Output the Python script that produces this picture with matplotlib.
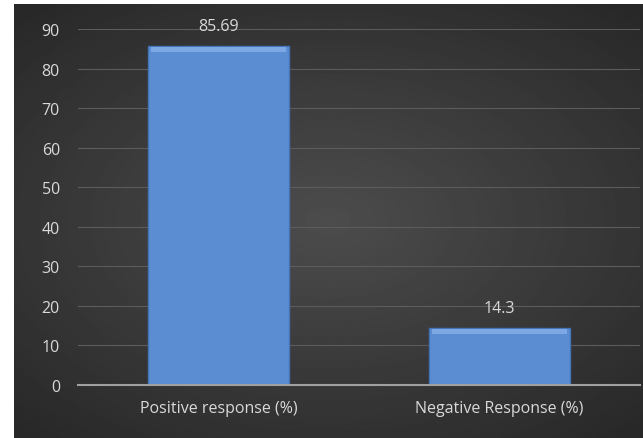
import matplotlib.pyplot as plt
import numpy as np

categories = ['Positive response (%)', 'Negative Response (%)']
values = [85.69, 14.3]
value_labels = ['85.69', '14.3']
yticks = [0, 10, 20, 30, 40, 50, 60, 70, 80, 90]

plt.rcParams['font.family'] = ['Open Sans', 'DejaVu Sans']

W, H = 643, 439
fig = plt.figure(figsize=(W / 100, H / 100), dpi=100)
fig.patch.set_facecolor('white')

# dark radial-gradient panel behind the chart
bg = fig.add_axes([14 / W, 0, (W - 14) / W, (H - 5) / H], zorder=0)
yy, xx = np.mgrid[-1:1:300j, -1:1:400j]
r = np.sqrt((xx * 0.9) ** 2 + (yy * 1.0) ** 2)
shade = 0.30 - 0.14 * np.clip(r / 1.3, 0, 1)
bg.imshow(shade, cmap='gray', vmin=0, vmax=1, aspect='auto', extent=[0, 1, 0, 1])
bg.set_axis_off()

ax = fig.add_axes([78 / W, (H - 386) / H, (640 - 78) / W, (386 - 30) / H], zorder=1)
ax.patch.set_alpha(0)

x = np.arange(len(categories))
bars = ax.bar(x, values, width=0.5, color='#5b8dd3', edgecolor='#4474b8',
              linewidth=1.0, zorder=3)
# soft bevel along the top of each bar
ax.bar(x, [1.3] * len(values), bottom=np.array(values) - 1.5, width=0.48,
       color='#7ea8e4', linewidth=0, zorder=4)
for b, lab in zip(bars, value_labels):
    ax.annotate(lab, (b.get_x() + b.get_width() / 2, b.get_height()),
                xytext=(0, 9), textcoords='offset points', ha='center',
                va='bottom', color='#d9d9d9', fontsize=11.5, annotation_clip=False)

ax.set_xlim(-0.5, 1.5)
ax.set_ylim(0, 90)
ax.set_yticks(yticks)
ax.set_xticks(x)
ax.set_xticklabels(categories)
ax.tick_params(axis='both', length=0, colors='#d9d9d9', labelsize=11.5)
ax.tick_params(axis='y', pad=13)
ax.tick_params(axis='x', pad=11)
ax.grid(axis='y', color='#5c5c5c', linewidth=0.8, zorder=0)
for s in ['top', 'right', 'left']:
    ax.spines[s].set_visible(False)
ax.spines['bottom'].set_color('#a0a0a0')
ax.spines['bottom'].set_linewidth(1.5)
ax.spines['bottom'].set_zorder(5)

fig.savefig('out.png', dpi=100)
